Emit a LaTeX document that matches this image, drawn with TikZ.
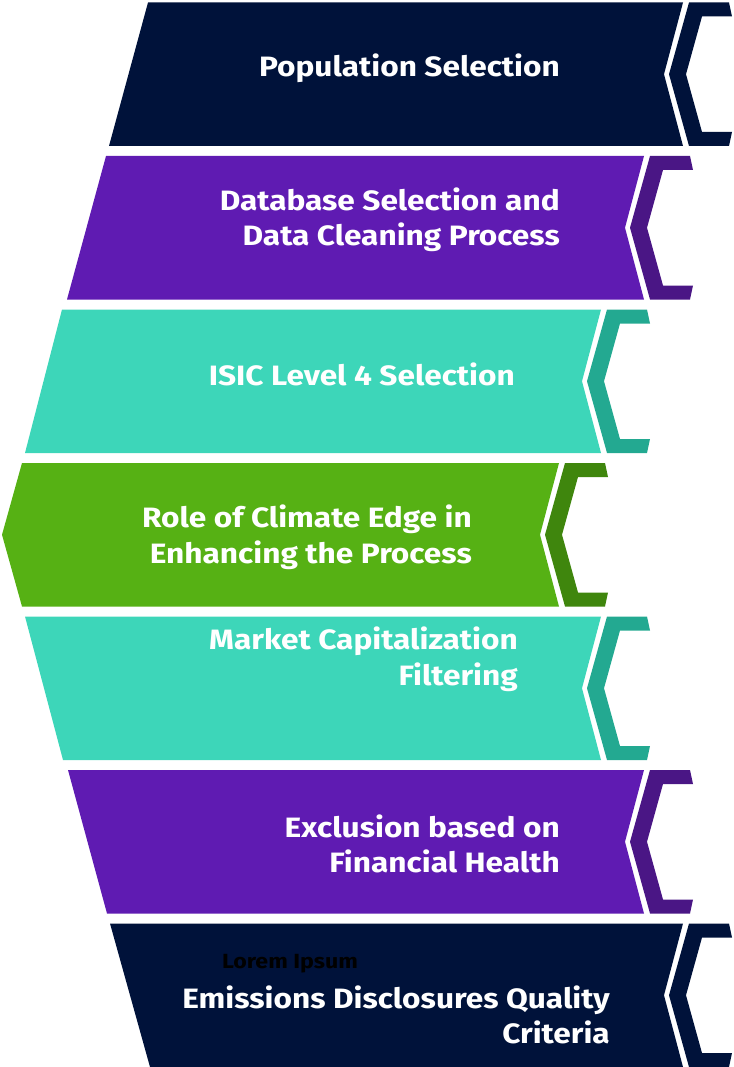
\documentclass[tikz,border=0pt]{standalone}
\usepackage{fontspec}
\setmainfont{Fira Sans}[FakeStretch=1.13]
\usepackage{tikz}
\usetikzlibrary{positioning}

\definecolor{navy}{HTML}{00123A}
\definecolor{violet}{HTML}{5F1BB2}
\definecolor{violetdark}{HTML}{4A1685}
\definecolor{teal}{HTML}{3DD6B9}
\definecolor{tealdark}{HTML}{23A991}
\definecolor{leaf}{HTML}{56B114}
\definecolor{leafdark}{HTML}{3F860D}

\tikzset{
 steptext/.style={text=white,anchor=east,align=right,inner sep=0pt,
   font=\fontsize{28}{35.5}\selectfont\bfseries},
 smalltext/.style={text=black,inner sep=0pt,
   font=\fontsize{20.5}{22}\selectfont\bfseries}
 }

% band with slanted left side and a notch on the right
% #1 left x at top, #2 left x at bottom, #3 right x, #4 top y, #5 colour
\newcommand{\stepband}[5]{%
  \fill[#5] (#1,#4) -- (#3,#4) -- (#3-19,#4+71.75) -- (#3,#4+143.5)
    -- (#2,#4+143.5) -- cycle;}
% bracket sitting in the notch; #1 right x of the band, #2 top y, #3 colour
\newcommand{\stepbracket}[3]{%
  \fill[#3] (#1+6,#2) -- (#1+46,#2) -- (#1+49,#2+14) -- (#1+19,#2+14)
    -- (#1+3,#2+71.75) -- (#1+19,#2+129.5) -- (#1+49,#2+129.5)
    -- (#1+46,#2+143.5) -- (#1+6,#2+143.5) -- (#1-14,#2+71.75) -- cycle;}

\begin{document}
\begin{tikzpicture}[x=1pt,y=-1pt]
  \useasboundingbox (0,0) rectangle (733,1067);

  \stepband{148}{109}{683}{2.5}{navy}
  \stepbracket{683}{2.5}{navy}
  \stepband{106}{67}{644}{156}{violet}
  \stepbracket{644}{156}{violetdark}
  \stepband{62}{25}{601}{309.5}{teal}
  \stepbracket{601}{309.5}{tealdark}
  % middle band points to the left
  \fill[leaf] (22,463) -- (559,463) -- (540,534.75) -- (559,606.5)
    -- (22,606.5) -- (2,534.75) -- cycle;
  \stepbracket{559}{463}{leafdark}
  \stepband{25}{63}{601}{616.5}{teal}
  \stepbracket{601}{616.5}{tealdark}
  \stepband{68}{107}{644}{770}{violet}
  \stepbracket{644}{770}{violetdark}
  \stepband{110}{150}{683}{923.5}{navy}
  \stepbracket{683}{923.5}{navy}

  \node[steptext] (s1) at (560,68) {Population Selection};
  \node[steptext] (s2) at (560,220) {Database Selection and\\Data Cleaning Process};
  \node[steptext] (s3) at (515,374) {ISIC Level 4 Selection};
  \node[steptext] (s4) at (472,537) {Role of Climate Edge in\\Enhancing the Process};
  \node[steptext] (s5) at (518,659) {Market Capitalization\\Filtering};
  \node[steptext] (s6) at (560,844) {Exclusion based on\\Financial Health};
  \node[steptext] (s7) at (610,1015) {Emissions Disclosures Quality\\Criteria};
  \node[smalltext] (lorem) at (290,964) {Lorem Ipsum};
\end{tikzpicture}
\end{document}
